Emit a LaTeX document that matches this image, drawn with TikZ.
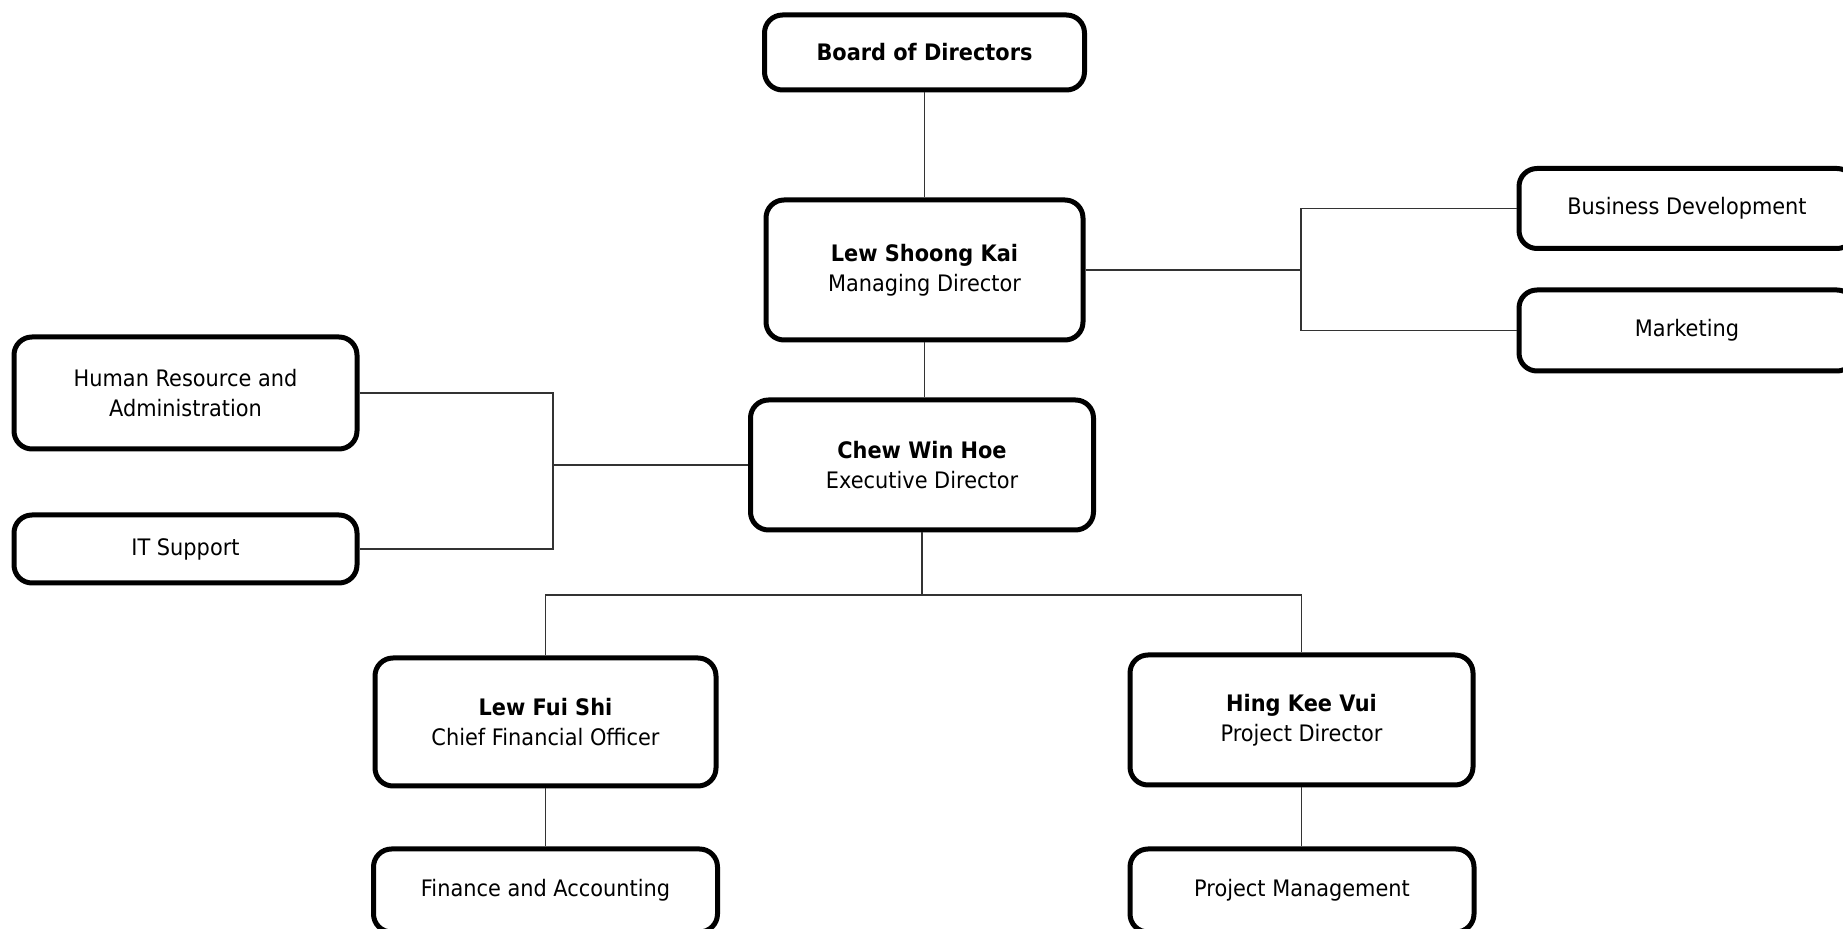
\documentclass[tikz,border=0pt]{standalone}
\usepackage{fontspec}
\setmainfont{DejaVu Sans}[FakeStretch=0.92]
\begin{document}
\begin{tikzpicture}[x=0.5pt,y=-0.5pt]
\tikzset{
  orgbox/.style={draw=black, line width=2.5pt, rounded corners=9pt, fill=white,
    inner sep=0pt, align=center, font=\fontsize{11.35}{15}\selectfont},
  bx/.style 2 args={minimum width=#1*0.5pt, minimum height=#2*0.5pt},
  link/.style={draw=black!80, line width=0.75pt},
}
\clip (0,0) rectangle (1843,929);
\fill[white] (0,0) rectangle (1843,929);

\node[orgbox, bx={320}{75}] (board) at (924.5,52.5) {\textbf{Board of Directors}};
\node[orgbox, bx={317}{140}] (mgr) at (924.5,270) {\textbf{Lew Shoong Kai}\\Managing Director};
\node[orgbox, bx={343}{130}] (exec) at (922,465) {\textbf{Chew Win Hoe}\\Executive Director};
\node[orgbox, bx={343}{112}] (hr) at (185.5,393) {Human Resource and\\Administration};
\node[orgbox, bx={343}{68}] (it) at (185.5,549) {IT Support};
\node[orgbox, bx={336}{80}] (biz) at (1687,208.5) {Business Development};
\node[orgbox, bx={336}{81}] (mkt) at (1687,330.5) {Marketing};
\node[orgbox, bx={341}{128}] (cfo) at (545.5,722) {\textbf{Lew Fui Shi}\\Chief Financial Officer};
\node[orgbox, bx={343}{130}] (pd) at (1301.5,720) {\textbf{Hing Kee Vui}\\Project Director};
\node[orgbox, bx={344}{83}] (fin) at (545.5,890.5) {Finance and Accounting};
\node[orgbox, bx={344}{83}] (pm) at (1302,890.5) {Project Management};

\coordinate (bjoin) at (922,595);
\coordinate (rjoin) at (1301,270);
\coordinate (ljoin) at (553,465);

\draw[link] (board.south) -- (mgr.north);
\draw[link] (mgr.south) -- (mgr.south |- exec.north);
\draw[link] (exec.south) -- (bjoin);
\draw[link] (cfo.north) |- (bjoin) -| (pd.north);
\draw[link] (cfo.south) -- (fin.north);
\draw[link] (pd.south) -- (pd.south |- pm.north);
\draw[link] (mgr.east) -- (rjoin);
\draw[link] (biz.west) -| (rjoin) |- (mkt.west);
\draw[link] (exec.west) -- (ljoin);
\draw[link] (hr.east) -| (ljoin) |- (it.east);
\end{tikzpicture}
\end{document}
